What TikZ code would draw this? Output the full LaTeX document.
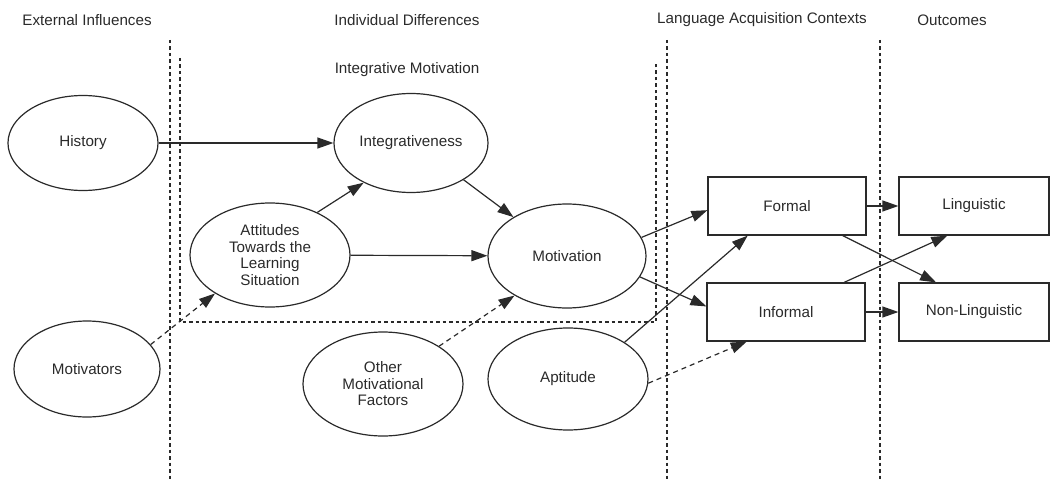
\documentclass[tikz,border=0pt]{standalone}
\usepackage{fontspec}
\setmainfont{Liberation Sans}
\usetikzlibrary{shapes.geometric,arrows.meta}
\newcommand\myfs{\fontsize{15.2}{16.5}\selectfont}
\definecolor{ink}{HTML}{2A2A2A}
\begin{document}
\begin{tikzpicture}[x=1pt,y=-1pt,
  ell/.style={draw=ink,line width=1.2pt,ellipse,inner sep=0pt,align=center,font=\myfs,text=ink},
  box/.style={draw=ink,line width=1.2pt,rectangle,inner sep=0pt,font=\myfs,text=ink},
  arr/.style={draw=ink,line width=1.2pt,-{Triangle[length=16pt,width=11pt]}},
  darr/.style={arr,dash pattern=on 5pt off 4pt},
  sep/.style={draw=ink,line width=1.1pt,dash pattern=on 3.5pt off 3pt},
  lbl/.style={font=\myfs,text=ink}]
\useasboundingbox (0,0) rectangle (1050,487);
% headings
\node[lbl] (h1) at (87,20) {External Influences};
\node[lbl] (h2) at (407,20) {Individual Differences};
\node[lbl] (h3) at (407,70) {Integrative Motivation};
\node[lbl] (h4) at (762,20) {Language Acquisition Contexts};
\node[lbl] (h5) at (952,20) {Outcomes};
% separators
\draw[sep] (170,40) -- (170,480);
\draw[sep] (667,40) -- (667,480);
\draw[sep] (880,40) -- (880,480);
\draw[sep] (180,58) -- (180,322) -- (656,322) -- (656,62);
% ellipses
\node[ell,minimum width=150pt,minimum height=95pt] (hist) at (83,143) {History};
\node[ell,minimum width=154pt,minimum height=99pt] (integ) at (411,143) {Integrativeness};
\node[ell,minimum width=160pt,minimum height=104pt] (att) at (270,255) {Attitudes\\Towards the\\Learning\\Situation};
\node[ell,minimum width=158pt,minimum height=104pt] (motiv) at (567,256) {Motivation};
\node[ell,minimum width=146pt,minimum height=96pt] (mots) at (87,369) {Motivators};
\node[ell,minimum width=160pt,minimum height=104pt] (other) at (383,384) {Other\\Motivational\\Factors};
\node[ell,minimum width=160pt,minimum height=102pt] (apt) at (568,379) {Aptitude};
% boxes
\node[box,minimum width=158pt,minimum height=58pt] (formal) at (787,206) {Formal};
\node[box,minimum width=158pt,minimum height=58pt] (informal) at (786,312) {Informal};
\node[box,minimum width=150pt,minimum height=58pt] (ling) at (974,206) {Linguistic};
\node[box,minimum width=150pt,minimum height=58pt] (nonling) at (974,312) {Non-Linguistic};
% arrows
\draw[arr] (hist) -- (integ);
\draw[arr] (att.42) -- (integ.220);
\draw[arr] (att) -- (motiv);
\draw[arr] (integ.-35) -- (motiv.144);
\draw[darr] (mots.21) -- (att.215);
\draw[darr] (other.34) -- (motiv.217);
\draw[arr] (motiv.14) -- (formal.183);
\draw[arr] (motiv.-16) -- (informal.176);
\draw[arr] (apt.33) -- (formal.217);
\draw[darr] (apt.-3.5) -- (informal.217);
\draw[arr] (formal) -- (ling);
\draw[arr] (formal.-28) -- (nonling.142);
\draw[arr] (informal.27) -- (ling.228);
\draw[arr] (informal) -- (nonling);
\end{tikzpicture}
\end{document}
